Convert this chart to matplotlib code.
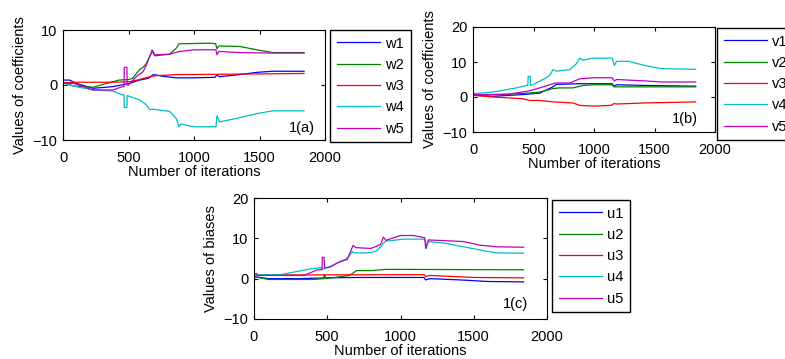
import matplotlib
matplotlib.use('Agg')
import matplotlib.pyplot as plt

plt.rcParams['font.family'] = ['Liberation Sans', 'DejaVu Sans']
plt.rcParams['font.size'] = 10.5

# ---- panel 1(a): coefficients w ----
w1_it = [0, 50, 100, 230, 380, 510, 585, 650, 690, 760, 865, 1000, 1160, 1175, 1195, 1350, 1480, 1600, 1840]
w1 = [0.9, 0.9, 0.3, -0.6, -0.3, 0.3, 0.9, 1.2, 1.9, 1.6, 1.3, 1.3, 1.4, 1.8, 1.5, 1.9, 2.3, 2.5, 2.5]
w2_it = [0, 30, 80, 230, 380, 430, 500, 530, 550, 585, 610, 636, 662, 682, 700, 814, 865, 885, 900, 1130, 1165, 1175, 1190, 1350, 1480, 1600, 1840]
w2 = [0.3, 0.3, -0.2, -0.4, 0.6, 0.9, 1.0, 1.2, 1.8, 2.8, 3.2, 3.9, 5.2, 6.1, 5.3, 5.6, 6.7, 7.5, 7.5, 7.6, 7.5, 6.6, 7.1, 7.0, 6.4, 5.9, 5.9]
w3_it = [0, 100, 230, 380, 510, 585, 660, 710, 880, 1000, 1840]
w3 = [0.4, 0.5, 0.5, 0.5, 0.6, 1.0, 1.5, 1.7, 1.9, 1.9, 2.1]
w4_it = [0, 100, 230, 380, 455, 466, 468, 488, 490, 510, 585, 636, 662, 687, 814, 865, 885, 900, 1000, 1150, 1168, 1175, 1195, 1300, 1480, 1600, 1840]
w4 = [0.3, -0.3, -0.9, -1.1, -1.8, -1.8, -4.1, -4.1, -1.9, -2.1, -2.7, -3.6, -4.5, -4.4, -4.8, -6.1, -7.6, -7.1, -7.6, -7.6, -7.6, -5.6, -6.7, -6.2, -5.2, -4.7, -4.7]
w5_it = [0, 80, 230, 380, 455, 466, 468, 488, 490, 500, 535, 573, 611, 636, 667, 680, 700, 814, 890, 1000, 1150, 1168, 1175, 1190, 1350, 1600, 1840]
w5 = [0.3, 0.3, -0.9, -0.9, -0.3, -0.3, 3.2, 3.2, 0.0, 0.0, 0.9, 1.8, 2.4, 3.6, 5.5, 6.4, 5.5, 5.6, 6.1, 6.4, 6.4, 6.4, 5.5, 6.1, 5.9, 5.8, 5.8]

# ---- panel 1(b): coefficients v ----
v1_it = [0, 165, 413, 551, 661, 689, 882, 1000, 1150, 1165, 1190, 1420, 1840]
v1 = [0.5, 0.2, 0.7, 1.1, 2.9, 3.6, 3.8, 3.8, 3.8, 3.1, 3.5, 3.3, 3.1]
v2_it = [0, 413, 551, 661, 716, 826, 909, 1000, 1150, 1165, 1420, 1840]
v2 = [0.5, 1.0, 1.4, 2.4, 2.6, 2.6, 3.3, 3.5, 3.5, 2.9, 2.9, 2.9]
v3_it = [0, 165, 413, 468, 551, 661, 826, 882, 1000, 1140, 1165, 1190, 1420, 1840]
v3 = [0.5, 0.0, -0.5, -1.0, -1.0, -1.4, -1.7, -2.4, -2.6, -2.4, -1.9, -2.0, -1.7, -1.4]
v4_it = [0, 165, 275, 358, 441, 453, 456, 472, 475, 482, 523, 565, 592, 634, 661, 689, 799, 854, 882, 909, 992, 1150, 1168, 1187, 1284, 1420, 1560, 1840]
v4 = [0.95, 1.4, 2.1, 2.6, 3.3, 3.3, 5.9, 5.9, 3.3, 3.3, 4.0, 4.8, 5.2, 6.2, 7.8, 7.4, 7.8, 9.5, 11.1, 10.5, 11.1, 11.1, 9.0, 10.2, 10.2, 9.0, 8.1, 7.9]
v5_it = [0, 275, 441, 482, 579, 661, 689, 799, 882, 1000, 1150, 1168, 1187, 1420, 1560, 1840]
v5 = [0.7, 0.7, 1.6, 1.9, 2.9, 3.8, 4.0, 4.0, 5.2, 5.5, 5.5, 4.6, 5.0, 4.6, 4.3, 4.3]

# ---- panel 1(c): biases u ----
u1_it = [0, 100, 300, 500, 700, 1160, 1172, 1200, 1400, 1600, 1840]
u1 = [0.5, 0.0, 0.0, 0.2, 0.3, 0.3, -0.3, 0.0, -0.3, -0.7, -0.8]
u2_it = [0, 100, 200, 400, 476, 478, 484, 486, 550, 650, 680, 700, 800, 900, 1000, 1840]
u2 = [0.5, -0.2, -0.2, -0.2, 0.0, 1.0, 1.0, 0.0, 0.3, 0.8, 1.5, 2.0, 2.0, 2.3, 2.3, 2.2]
u3_it = [0, 1160, 1172, 1200, 1500, 1840]
u3 = [0.9, 1.0, 0.5, 0.8, 0.3, 0.2]
u4_it = [0, 182, 296, 398, 455, 478, 523, 569, 615, 649, 671, 682, 796, 842, 876, 900, 1024, 1150, 1168, 1176, 1190, 1300, 1430, 1545, 1655, 1840]
u4 = [1.0, 1.0, 1.8, 2.5, 2.7, 2.4, 3.1, 3.9, 4.5, 5.6, 6.7, 6.4, 6.4, 7.0, 8.5, 9.3, 9.8, 9.8, 9.6, 7.5, 9.2, 8.8, 7.9, 7.1, 6.4, 6.3]
u5_it = [0, 15, 30, 341, 432, 464, 466, 478, 482, 523, 569, 603, 637, 660, 676, 694, 796, 819, 865, 883, 900, 1000, 1088, 1156, 1165, 1172, 1190, 1315, 1430, 1545, 1655, 1840]
u5 = [0.8, 1.3, 0.8, 0.8, 2.2, 2.2, 5.3, 5.3, 2.7, 2.9, 3.9, 4.5, 4.75, 6.8, 8.25, 7.7, 7.5, 7.8, 8.5, 10.3, 9.5, 10.7, 10.7, 10.2, 10.2, 7.5, 9.6, 9.4, 9.2, 8.3, 7.9, 7.8]

colors = ['#0000ff', '#008000', '#ff0000', '#00bfbf', '#bf00bf']

W = 785
H = 359
fig = plt.figure(figsize=(W / 100, H / 100), dpi=100)


def make_panel(rect, series, names, ylabel, tag, tag_xy, yticks, leg_xy):
    ax = fig.add_axes(rect)
    lines = []
    for (it, val), c in zip(series, colors):
        ln, = ax.plot(it, val, color=c, lw=0.9)
        lines.append(ln)
    ax.set_xlim(0, 2000)
    ax.set_ylim(yticks[0], yticks[-1])
    ax.set_xticks([0, 500, 1000, 1500, 2000])
    ax.set_yticks(yticks)
    ax.tick_params(direction='in', length=3, top=True, right=True)
    ax.tick_params(axis='x', pad=8)
    ax.tick_params(axis='y', pad=4)
    for s in ax.spines.values():
        s.set_linewidth(0.8)
    ax.set_xlabel('Number of iterations', labelpad=0)
    ax.set_ylabel(ylabel, labelpad=4)
    ax.text(tag_xy[0], tag_xy[1], tag, ha='right', va='center')
    leg = fig.legend(lines, names, loc='upper left',
                     bbox_to_anchor=(leg_xy[0] / W, 1 - leg_xy[1] / H),
                     borderaxespad=0, fancybox=False, edgecolor='black',
                     framealpha=1, handlelength=3.0, handletextpad=0.35,
                     labelspacing=0.5, borderpad=0.45)
    leg.get_frame().set_linewidth(1.0)
    return ax


make_panel([63 / W, 1 - 140 / H, 262 / W, 110 / H],
           [(w1_it, w1), (w2_it, w2), (w3_it, w3), (w4_it, w4), (w5_it, w5)],
           ['w1', 'w2', 'w3', 'w4', 'w5'], 'Values of coefficients', '1(a)',
           (1925, -7.8), [-10, 0, 10], (330, 30))

make_panel([473 / W, 1 - 132 / H, 242 / W, 105 / H],
           [(v1_it, v1), (v2_it, v2), (v3_it, v3), (v4_it, v4), (v5_it, v5)],
           ['v1', 'v2', 'v3', 'v4', 'v5'], 'Values of coefficients', '1(b)',
           (1862, -6.2), [-10, 0, 10, 20], (717, 28))

make_panel([254 / W, 1 - 319 / H, 293 / W, 121 / H],
           [(u1_it, u1), (u2_it, u2), (u3_it, u3), (u4_it, u4), (u5_it, u5)],
           ['u1', 'u2', 'u3', 'u4', 'u5'], 'Values of biases', '1(c)',
           (1873, -6.3), [-10, 0, 10, 20], (552, 200))

fig.savefig('out.png', dpi=100)
